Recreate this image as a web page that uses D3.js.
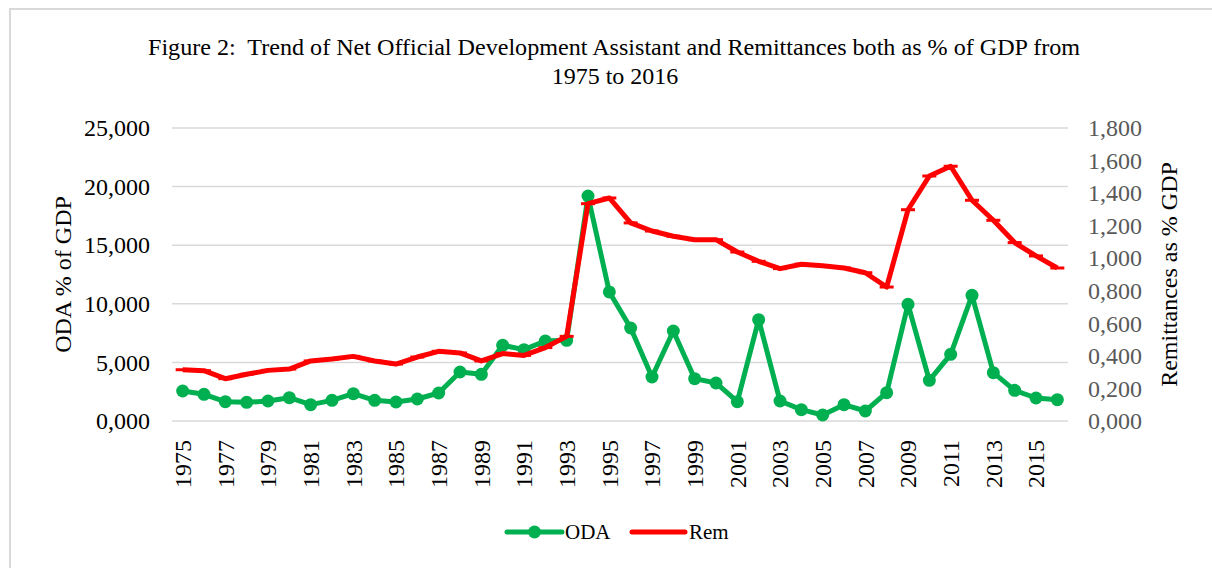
<!DOCTYPE html>
<html><head><meta charset="utf-8">
<script src="https://cdn.jsdelivr.net/npm/d3@7"></script>
<style>
body{margin:0;background:#fff}
svg{display:block}
text{font-family:"Liberation Serif","Times New Roman",serif}
</style>
</head><body>
<svg id="c" width="1212" height="568"></svg>
<script>
const years = ["1975","1976","1977","1978","1979","1980","1981","1982","1983","1984","1985","1986","1987","1988","1989","1990","1991","1992","1993","1994","1995","1996","1997","1998","1999","2000","2001","2002","2003","2004","2005","2006","2007","2008","2009","2010","2011","2012","2013","2014","2015","2016"];
const tickYears = ["1975","1977","1979","1981","1983","1985","1987","1989","1991","1993","1995","1997","1999","2001","2003","2005","2007","2009","2011","2013","2015"];
const oda = [2560,2275,1650,1590,1706,1990,1394,1763,2332,1763,1621,1877,2389,4181,3982,6456,6086,6826,6882,19200,11010,7937,3755,7681,3613,3243,1650,8649,1707,967,512,1394,853,2418,9957,3471,5690,10725,4125,2617,1963,1821];
const rem = [315,309,260,287,311,319,369,381,397,369,350,393,428,418,369,414,403,451,520,1335,1370,1217,1167,1135,1114,1114,1038,981,936,963,954,940,911,823,1298,1505,1565,1356,1233,1096,1014,940];
const leftTicks = [0,5000,10000,15000,20000,25000];
const rightTicks = [0,200,400,600,800,1000,1200,1400,1600,1800];
const titleLines = ["Figure 2:  Trend of Net Official Development Assistant and Remittances both as % of GDP from","1975 to 2016"];
const seriesNames = ["ODA","Rem"];

(function(){
const svg = d3.select("#c");
const pL = 172, pR = 1068, pT = 128, pB = 421;
const green = "#00b050", red = "#ff0000";

// border
svg.append("rect").attr("x",10).attr("y",9).attr("width",1400).attr("height",800)
  .attr("fill","none").attr("stroke","#d9d9d9").attr("stroke-width",2);

const x = d3.scaleBand().domain(years).range([pL,pR]);
const cx = d => x(d) + x.bandwidth()/2;
const yL = d3.scaleLinear().domain([0,25000]).range([pB,pT]);
const yR = d3.scaleLinear().domain([0,1800]).range([pB,pT]);
const fmt = v => (v/1000).toFixed(3).replace(".",",");

// gridlines
svg.append("g").selectAll("line").data(leftTicks).join("line")
  .attr("x1",pL).attr("x2",pR).attr("y1",d=>yL(d)).attr("y2",d=>yL(d))
  .attr("stroke","#d9d9d9").attr("stroke-width",1.5);

// left axis
const gl = svg.append("g").attr("transform",`translate(${pL},0)`)
  .call(d3.axisLeft(yL).tickValues(leftTicks).tickFormat(fmt).tickSize(0).tickPadding(22));
gl.select(".domain").remove();
gl.selectAll("text").attr("font-size",24).attr("fill","#000").style("font-family",'"Liberation Serif",serif');

// right axis
const gr = svg.append("g").attr("transform",`translate(${pR},0)`)
  .call(d3.axisRight(yR).tickValues(rightTicks).tickFormat(fmt).tickSize(0).tickPadding(20));
gr.select(".domain").remove();
gr.selectAll("text").attr("font-size",24).attr("fill","#595959").style("font-family",'"Liberation Serif",serif');

// x axis
const gx = svg.append("g").attr("transform",`translate(0,${pB})`)
  .call(d3.axisBottom(x).tickValues(tickYears).tickSize(0));
gx.select(".domain").remove();
gx.selectAll("text").attr("font-size",24).attr("fill","#000").style("font-family",'"Liberation Serif",serif')
  .attr("transform","rotate(-90)").attr("text-anchor","end")
  .attr("x",-19).attr("y",0).attr("dy","0.35em");

// axis titles
svg.append("text").attr("transform",`translate(71,${(pT+pB)/2}) rotate(-90)`)
  .attr("text-anchor","middle").attr("font-size",24).attr("fill","#000").text("ODA % of GDP");
svg.append("text").attr("transform",`translate(1177,${(pT+pB)/2}) rotate(-90)`)
  .attr("text-anchor","middle").attr("font-size",24).attr("fill","#000").text("Remittances as % GDP");

// title
svg.append("text").attr("x",614).attr("y",55).attr("text-anchor","middle").attr("font-size",24)
  .style("white-space","pre").attr("xml:space","preserve")
  .attr("textLength",932).attr("lengthAdjust","spacingAndGlyphs").text(titleLines[0]);
svg.append("text").attr("x",615).attr("y",84).attr("text-anchor","middle").attr("font-size",24)
  .text(titleLines[1]);

const odaData = years.map((y,i)=>({y, v:oda[i]}));
const remData = years.map((y,i)=>({y, v:rem[i]}));

// ODA line
svg.append("path").datum(odaData)
  .attr("d", d3.line().x(d=>cx(d.y)).y(d=>yL(d.v)))
  .attr("fill","none").attr("stroke",green).attr("stroke-width",5).attr("stroke-linejoin","round");
svg.append("g").selectAll("circle").data(odaData).join("circle")
  .attr("cx",d=>cx(d.y)).attr("cy",d=>yL(d.v)).attr("r",6.5).attr("fill",green);

// Rem line
svg.append("path").datum(remData)
  .attr("d", d3.line().x(d=>cx(d.y)).y(d=>yR(d.v)))
  .attr("fill","none").attr("stroke",red).attr("stroke-width",5).attr("stroke-linejoin","round");
svg.append("g").selectAll("line").data(remData).join("line")
  .attr("x1",d=>cx(d.y)-7).attr("x2",d=>cx(d.y)+7)
  .attr("y1",d=>yR(d.v)).attr("y2",d=>yR(d.v))
  .attr("stroke",red).attr("stroke-width",3);

// legend
const lg = svg.append("g");
lg.append("line").attr("x1",507).attr("x2",562).attr("y1",532).attr("y2",532)
  .attr("stroke",green).attr("stroke-width",5).attr("stroke-linecap","round");
lg.append("circle").attr("cx",534.5).attr("cy",532).attr("r",6.5).attr("fill",green);
lg.append("text").attr("x",565).attr("y",539).attr("font-size",21).text(seriesNames[0]);
lg.append("line").attr("x1",632).attr("x2",685).attr("y1",532).attr("y2",532)
  .attr("stroke",red).attr("stroke-width",5).attr("stroke-linecap","round");
lg.append("text").attr("x",689).attr("y",539).attr("font-size",21).text(seriesNames[1]);
})();
</script>
</body></html>
